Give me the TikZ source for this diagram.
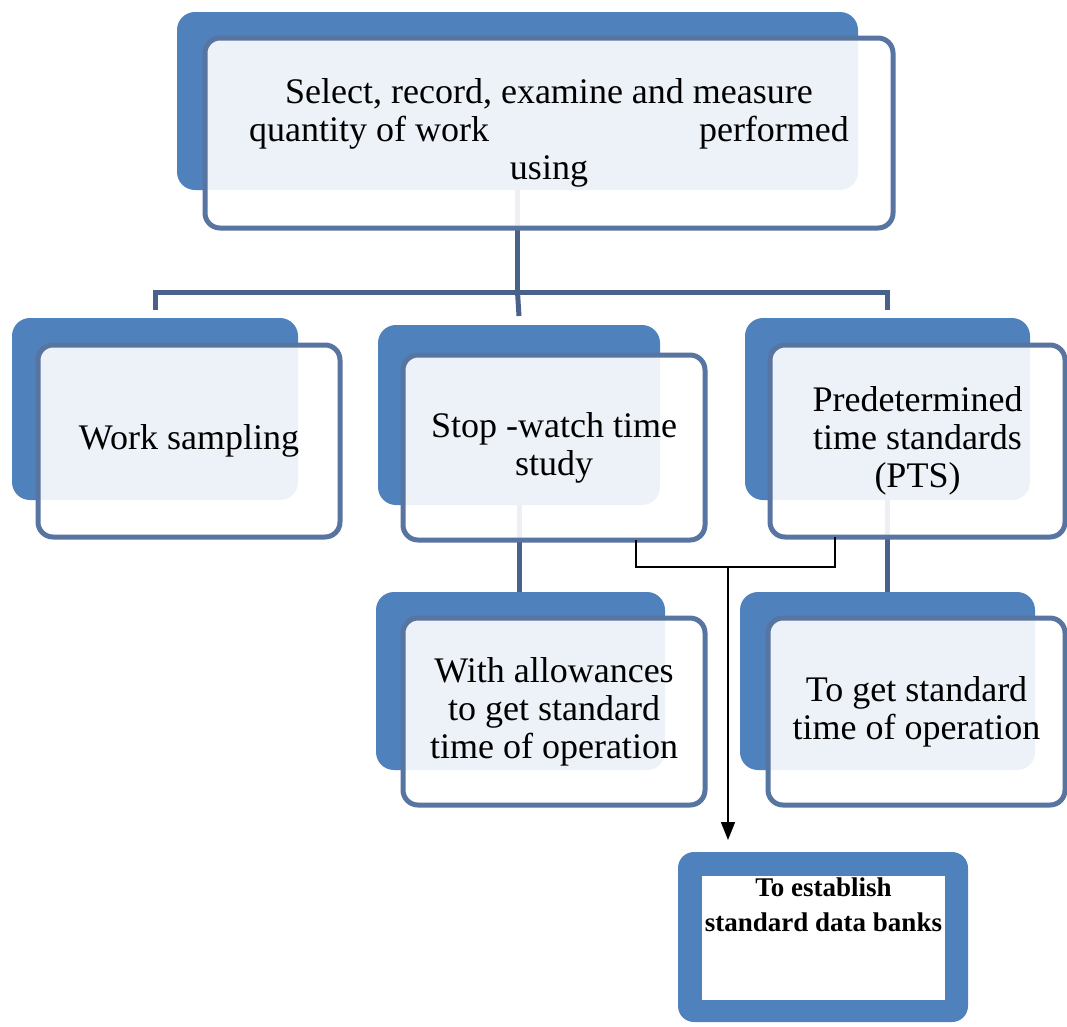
\documentclass[tikz,border=0pt]{standalone}
\usepackage{fontspec}
\setmainfont{Liberation Serif}
\usetikzlibrary{arrows.meta,backgrounds}
\definecolor{backblue}{RGB}{79,129,189}
\definecolor{edgeblue}{RGB}{88,116,160}
\definecolor{connblue}{RGB}{72,98,140}
\tikzset{
 backbox/.style={rectangle, rounded corners=18pt, fill=backblue, draw=none, inner sep=0pt, outer sep=0pt},
 frontbox/.style={rectangle, rounded corners=15pt, draw=edgeblue, line width=5pt, fill=white, fill opacity=0.9, text opacity=1, draw opacity=1, inner sep=0pt, outer sep=0pt, align=center, font=\fontsize{36}{38}\selectfont},
 conn/.style={draw=connblue, line width=5pt},
 blackline/.style={draw=black, line width=1.6pt},
}
\begin{document}
\begin{tikzpicture}[x=1pt,y=-1pt]
\useasboundingbox (0,0) rectangle (1067,1026);
% top
\node[backbox, minimum width=681pt, minimum height=178pt] (topb) at (517.5,101) {};
\node[frontbox, minimum width=688pt, minimum height=190pt] (topf) at (549,133) {Select, record, examine and measure\\quantity of work\hspace{210pt}performed\\using};
% level 2
\node[backbox, minimum width=286pt, minimum height=182pt] (wsb) at (155,409) {};
\node[frontbox, minimum width=302pt, minimum height=192pt] (wsf) at (189,441) {Work sampling};
\node[backbox, minimum width=282pt, minimum height=180pt] (swb) at (519,415) {};
\node[frontbox, minimum width=302pt, minimum height=185pt] (swf) at (554,447.5) {Stop -watch time\\study};
\node[backbox, minimum width=285pt, minimum height=182pt] (ptsb) at (887.5,409) {};
\node[frontbox, minimum width=295pt, minimum height=192pt] (ptsf) at (917.5,441) {Predetermined\\time standards\\(PTS)};
% level 3
\node[backbox, minimum width=289pt, minimum height=178pt] (wab) at (520.5,681) {};
\node[frontbox, minimum width=302pt, minimum height=187pt] (waf) at (554,711.5) {With allowances\\to get standard\\time of operation};
\node[backbox, minimum width=295pt, minimum height=178pt] (tgb) at (887.5,681) {};
\node[frontbox, minimum width=297pt, minimum height=187pt] (tgf) at (916.5,711.5) {To get standard\\time of operation};
% bank
\node[backbox, rounded corners=16pt, minimum width=290pt, minimum height=170pt] (banko) at (823,937) {};
\node[rectangle, fill=white, inner sep=0pt, outer sep=0pt] (bank) at (823.5,938) {\parbox[t][124pt][t]{243pt}{\centering\fontsize{27}{35}\selectfont\bfseries\vspace*{2pt}To establish\\standard data banks}};
% connectors (behind)
\begin{pgfonlayer}{background}
\fill[white] (0,0) rectangle (1067,1026);
\coordinate (bar) at (518,292);
\draw[conn] (topb.south) -- (topb.south |- bar);
\draw[conn] ([yshift=8pt]wsb.north) |- (topb.south |- bar) -| ([yshift=8pt]ptsb.north);
\draw[conn] (topb.south |- bar) -- ([yshift=9pt]swb.north);
\draw[conn] (swb.south) -- (swb.south |- wab.north);
\draw[conn] (ptsb.south) -- (ptsb.south |- tgb.north);
\end{pgfonlayer}
% thin black connector
\coordinate (jl) at (636,567);
\coordinate (jr) at (835,567);
\coordinate (jm) at (728,567);
\coordinate (arrend) at (728,840);
\draw[blackline] (swf.south -| jl) -- (jl) -- (jr) -- (ptsf.south -| jr);
\draw[blackline, -{Triangle[length=18pt,width=14pt]}] (jm) -- (arrend);
\end{tikzpicture}
\end{document}
